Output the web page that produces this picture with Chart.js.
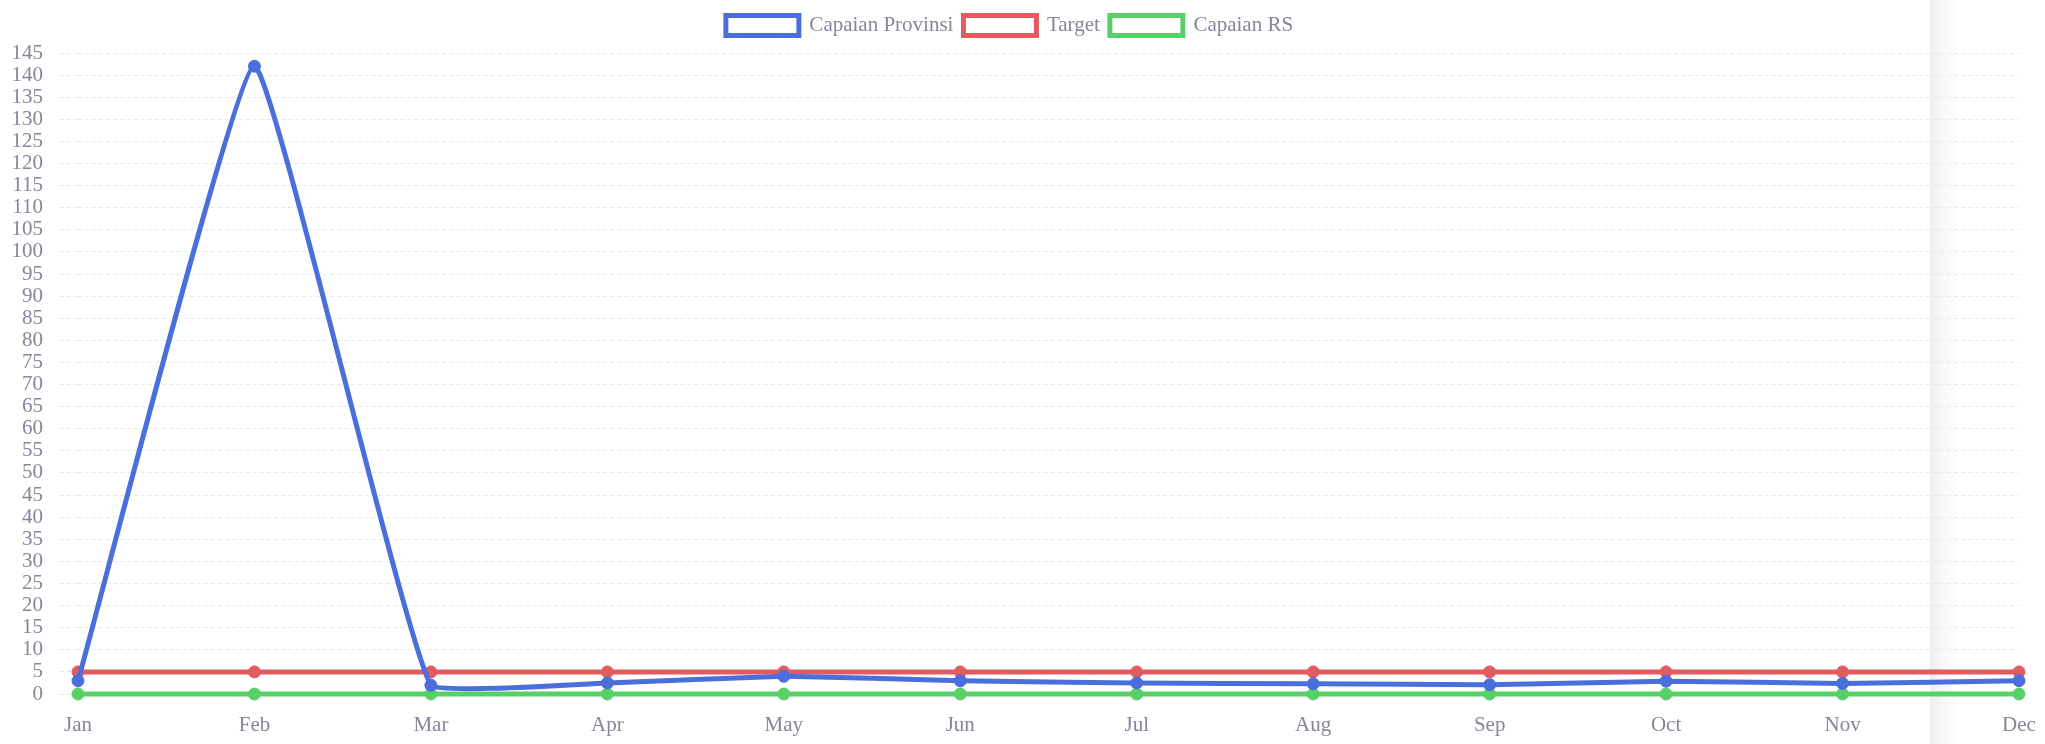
<!DOCTYPE html>
<html>
<head>
<meta charset="utf-8">
<script src="https://cdn.jsdelivr.net/npm/chart.js@4.4.1/dist/chart.umd.min.js"></script>
<style>
  html, body { margin: 0; padding: 0; background: #fff; }
  #wrap { position: relative; width: 2045px; height: 744px; }
  #shade { position: absolute; left: 1930px; top: 0; width: 115px; height: 744px;
           background: linear-gradient(to right, #efeff2 0px, #f7f7f9 12px, #ffffff 30px); }
  #myChart { position: absolute; left: 0; top: 0; }
</style>
</head>
<body>
<div id="wrap">
  <div id="shade"></div>
  <canvas id="myChart" width="2045" height="744"></canvas>
</div>
<script>
const bulan = ['Jan', 'Feb', 'Mar', 'Apr', 'May', 'Jun', 'Jul', 'Aug', 'Sep', 'Oct', 'Nov', 'Dec'];
const capaianProvinsi = [3, 142, 2, 2.5, 4, 3, 2.5, 2.3, 2.1, 2.9, 2.4, 3];
const target = [5, 5, 5, 5, 5, 5, 5, 5, 5, 5, 5, 5];
const capaianRS = [0, 0, 0, 0, 0, 0, 0, 0, 0, 0, 0, 0];

const fontAxis = { family: 'Liberation Serif', size: 21 };
const abu = '#858796';

function garis(label, values, warna) {
    return {
        label: label,
        data: values,
        borderColor: warna,
        backgroundColor: '#ffffff',
        pointBackgroundColor: warna,
        pointBorderColor: warna,
        pointRadius: 6,
        pointBorderWidth: 1,
        borderWidth: 5,
        tension: 0.1,
        clip: false
    };
}

// sedikit jarak di bawah legend
const jarakLegend = {
    id: 'jarakLegend',
    beforeInit(chart) {
        const fitAsli = chart.legend.fit;
        chart.legend.fit = function () {
            fitAsli.bind(chart.legend)();
            this.height += 7;
        };
    }
};

const grafik = document.getElementById('myChart');

new Chart(grafik, {
    type: 'line',
    data: {
        labels: bulan,
        datasets: [
            garis('Capaian Provinsi', capaianProvinsi, '#4a6fdc'),
            garis('Target', target, '#e05c60'),
            garis('Capaian RS', capaianRS, '#58d068')
        ]
    },
    plugins: [jarakLegend],
    options: {
        responsive: false,
        animation: false,
        devicePixelRatio: 1,
        layout: { padding: { top: 5, right: 26, bottom: 0, left: 0 } },
        scales: {
            x: {
                grid: { display: false, drawTicks: false },
                border: { display: false },
                ticks: { color: abu, font: fontAxis, padding: 19, maxRotation: 0, autoSkip: false },
                afterFit: function (scale) {
                    scale.height = 50;
                    scale.paddingRight = 0;
                }
            },
            y: {
                min: 0,
                max: 145,
                grid: { color: '#e4e8f0', tickLength: 18, tickColor: '#e4e8f0', tickBorderDash: [4, 3] },
                border: { display: false, dash: [4, 3] },
                ticks: { color: abu, font: fontAxis, stepSize: 5, padding: 17, autoSkip: false },
                afterFit: function (scale) { scale.width = 78; }
            }
        },
        plugins: {
            legend: {
                display: true,
                labels: {
                    color: abu,
                    font: fontAxis,
                    boxWidth: 73,
                    boxHeight: 20,
                    padding: 10
                }
            },
            tooltip: { enabled: false }
        }
    }
});
</script>
</body>
</html>
